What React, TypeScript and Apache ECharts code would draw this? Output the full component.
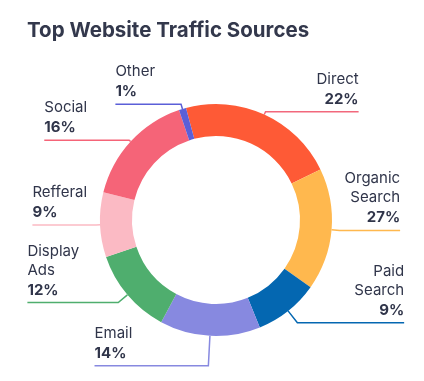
import React, { useEffect, useRef } from 'react';
import * as echarts from 'echarts';

const titleText = 'Top Website Traffic Sources';
const categories = ['Direct', 'Organic Search', 'Paid Search', 'Email', 'Display Ads', 'Refferal', 'Social', 'Other'];
// slice sizes as drawn (angles read from the ring)
const shares = [22, 17, 9, 14, 12, 9, 16, 1];
// percentages as printed on the labels
const shownPercents = ['22%', '27%', '9%', '14%', '12%', '9%', '16%', '1%'];
const colors = ['#FE5A36', '#FFB84E', '#0467B1', '#8789E0', '#4FAE6E', '#FBBAC4', '#F56478', '#5B5FD8'];
const lineColors = ['#F2687C', '#FFB84E', '#0467B1', '#8789E0', '#4FAE6E', '#FBBAC4', '#F56478', '#5B5FD8'];
const lineLengths = [3, 8, 15, 30, 12, 4, 2, 5];
const lineLengths2 = [46, 0, 52, 71, 34, 4, 37, 21];

const TEXT = '#30354A';
const FONT = 'Inter, "Noto Sans", sans-serif';

export default function App() {
  const ref = useRef<HTMLDivElement>(null);
  useEffect(() => {
    if (!ref.current) return;
    const chart = echarts.init(ref.current, null, { renderer: 'svg' });
    const data = categories.map((name, i) => ({
      name,
      value: shares[i],
      itemStyle: { color: colors[i] },
      labelLine: { length: lineLengths[i], length2: lineLengths2[i], lineStyle: { color: lineColors[i], width: 1.5 } },
    }));
    chart.setOption({
      animation: false,
      title: {
        text: titleText,
        left: 22,
        top: 14,
        textStyle: { fontSize: 20.5, fontWeight: 'bold', color: '#33384C', fontFamily: FONT },
      },
      series: [
        {
          type: 'pie',
          center: [216, 220],
          radius: [84, 116],
          startAngle: 105,
          clockwise: true,
          avoidLabelOverlap: false,
          data,
          emphasis: { disabled: true },
          label: {
            show: true,
            position: 'outside',
            fontFamily: FONT,
            formatter: (p: any) => {
              const words = String(p.name).split(' ');
              return words.map((w) => `{n|${w}}`).join('\n') + `\n{p|${shownPercents[p.dataIndex]}}`;
            },
            rich: {
              n: { fontSize: 15, lineHeight: 19, color: TEXT, fontFamily: FONT },
              p: { fontSize: 15, lineHeight: 21, fontWeight: 'bold', color: TEXT, fontFamily: FONT },
            },
          },
          labelLine: { show: true, smooth: false },
          labelLayout: (params: any) => {
            const pts = params.labelLinePoints;
            if (!pts) return {};
            const r = params.labelRect;
            const y = pts[2][1];
            const isLeft = r.x + r.width / 2 < pts[2][0];
            const x = isLeft ? r.x : r.x + r.width;
            return {
              x,
              y: y - 3,
              align: isLeft ? 'left' : 'right',
              verticalAlign: 'bottom',
              labelLinePoints: [pts[0], pts[1], [x, y]],
            };
          },
        },
      ],
    });
    return () => chart.dispose();
  }, []);
  return <div ref={ref} style={{ position: 'fixed', left: 0, top: 0, width: 424, height: 381 }} />;
}
